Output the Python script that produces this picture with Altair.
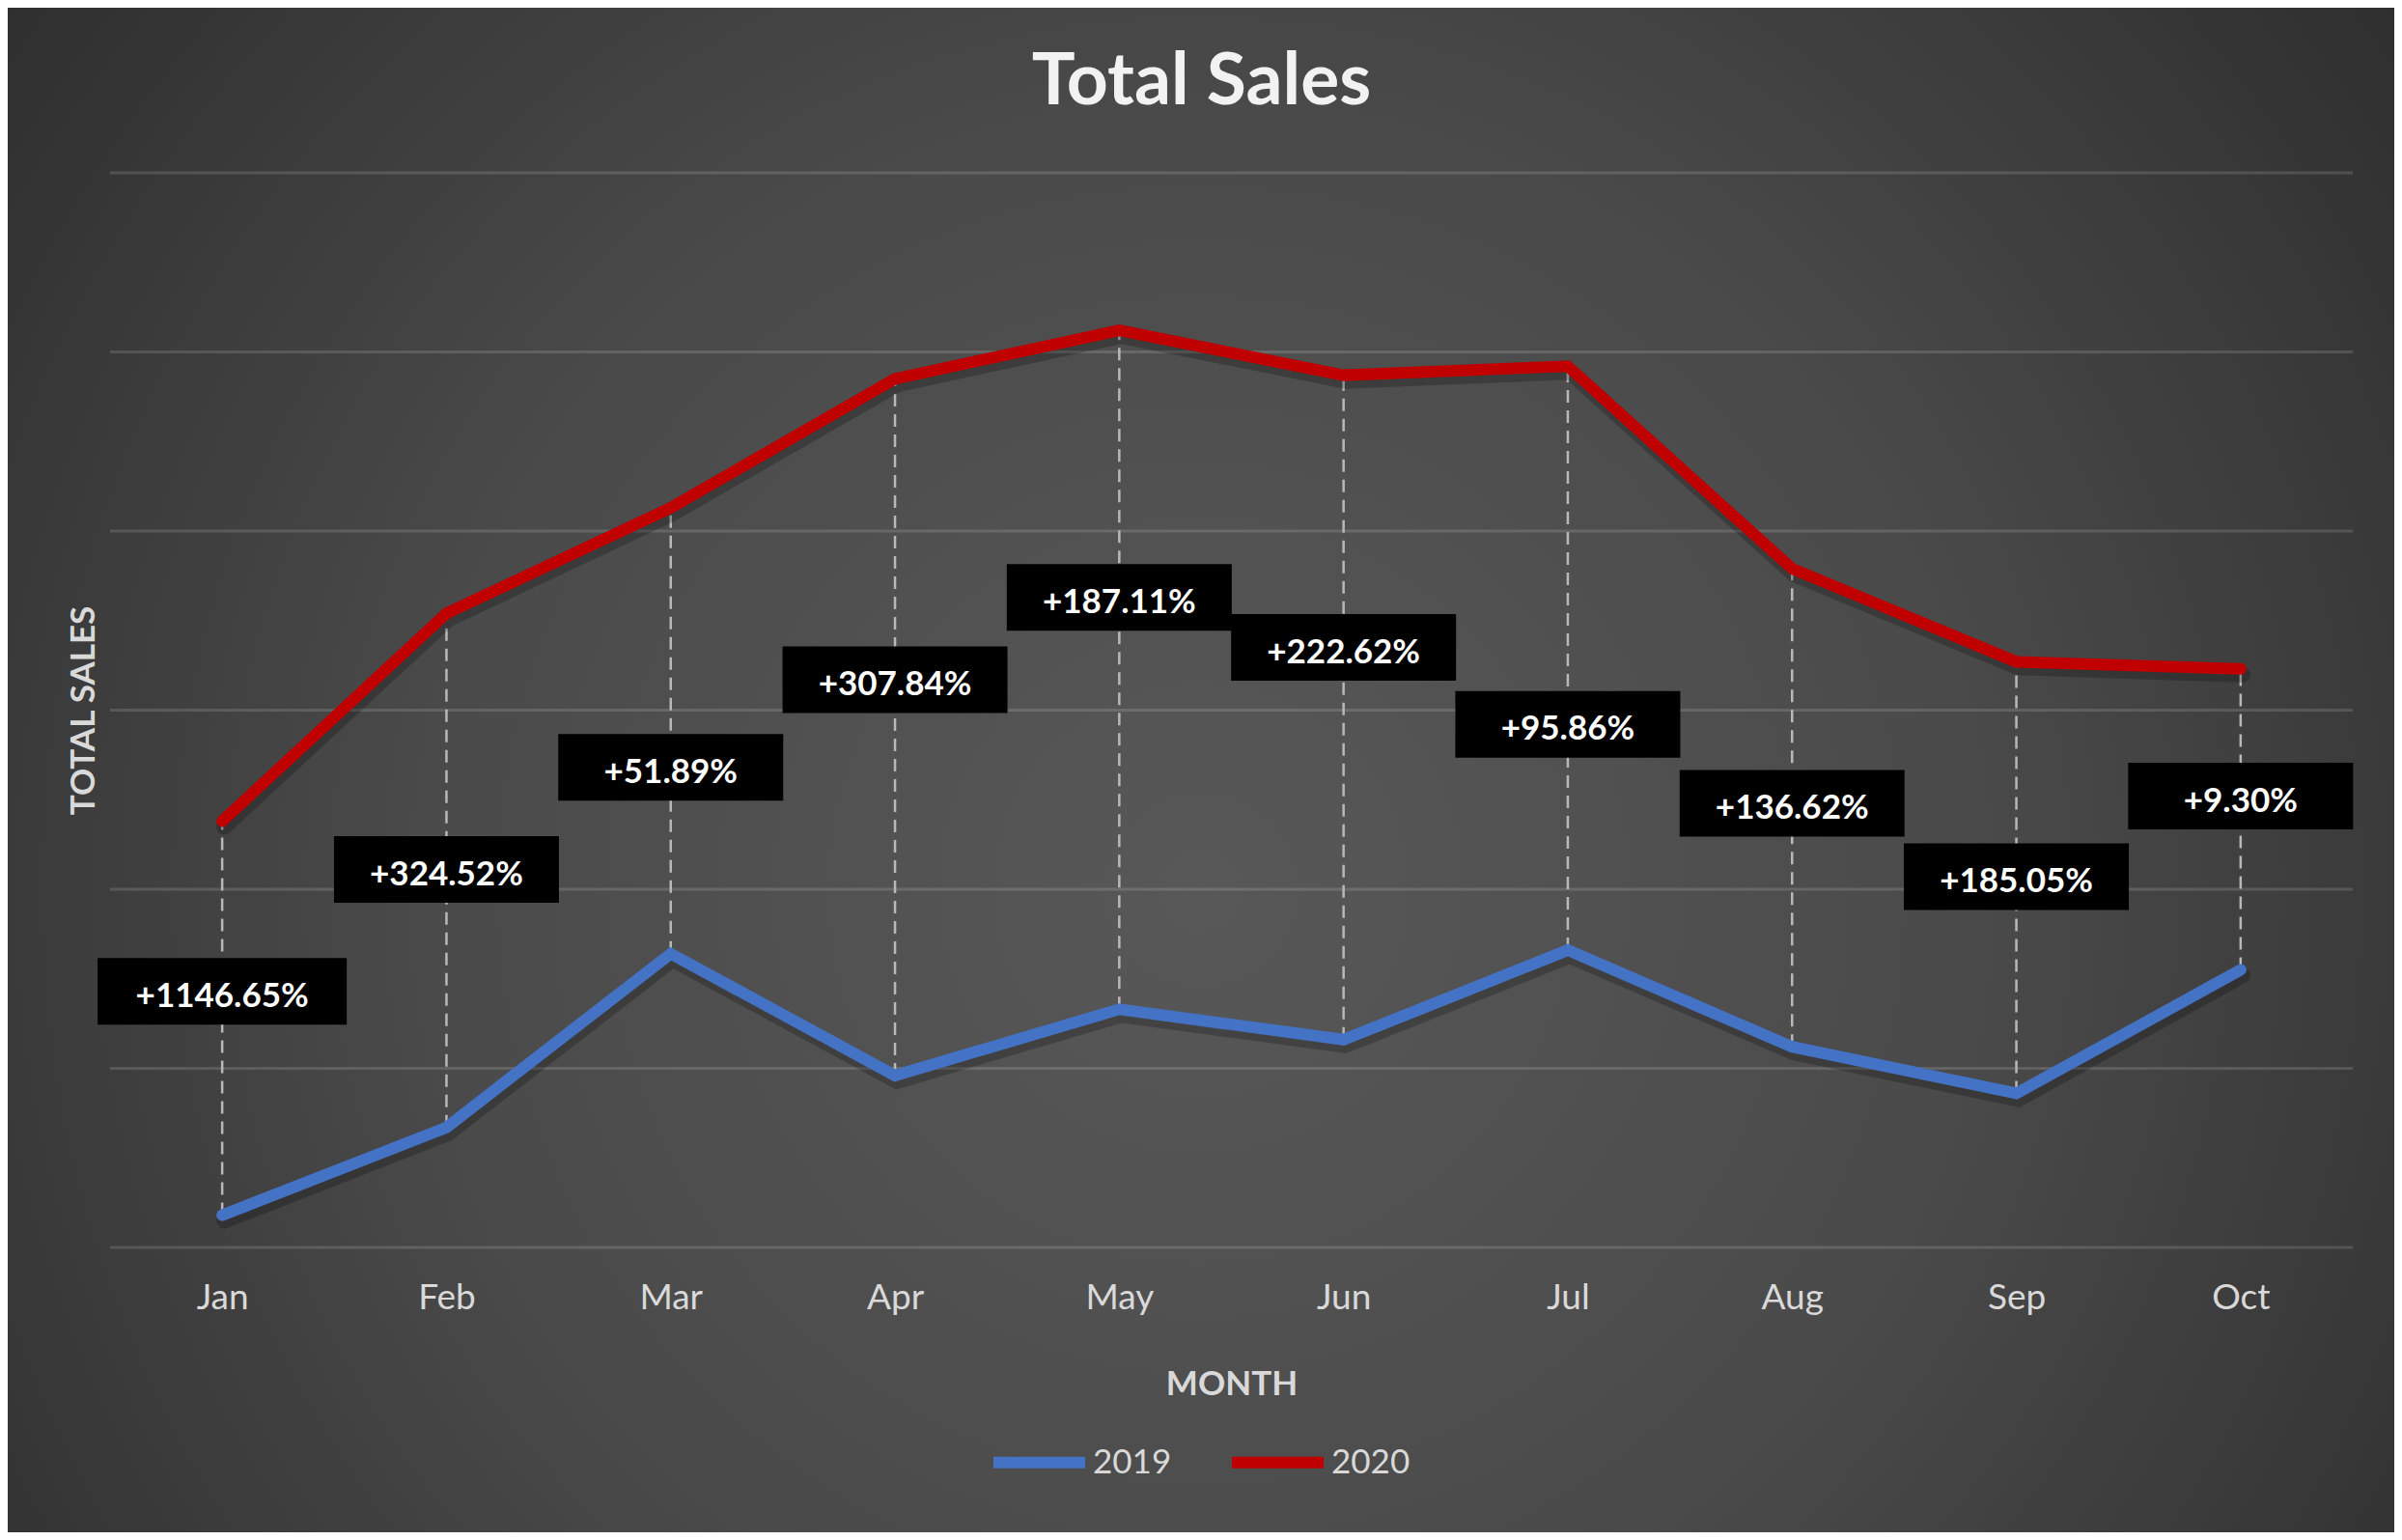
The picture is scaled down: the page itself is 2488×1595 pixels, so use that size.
import altair as alt
import pandas as pd

# ---- data (units: one gridline = 100) ----
months = ["Jan", "Feb", "Mar", "Apr", "May", "Jun", "Jul", "Aug", "Sep", "Oct"]
sales_2019 = [18, 67, 164, 96, 133, 116, 166, 112, 86, 155]
sales_2020 = [238, 354, 413, 485, 512, 487, 492, 379, 327, 323]
growth_labels = ["+1146.65%", "+324.52%", "+51.89%", "+307.84%", "+187.11%",
                 "+222.62%", "+95.86%", "+136.62%", "+185.05%", "+9.30%"]
label_level = [143, 211, 268, 317, 363, 335, 292, 248, 207, 252]
grid_values = [0, 100, 200, 300, 400, 500, 600]
years = ["2019", "2020"]
year_colors = ["#4472C4", "#C00000"]

long_df = pd.DataFrame({
    "month": months * 2,
    "year": ["2019"] * len(months) + ["2020"] * len(months),
    "sales": sales_2019 + sales_2020,
})
wide_df = pd.DataFrame({
    "month": months,
    "lo": sales_2019,
    "hi": sales_2020,
    "label": growth_labels,
    "level": label_level,
})
grid_df = pd.DataFrame({"g": grid_values})

W, H = 2323, 1113
PAD = {"left": 106, "top": 171, "right": 43, "bottom": 295}
FONT = "Lato"
TXT = "#D9D9D9"

x_scale = alt.Scale(type="point", padding=0.5, domain=months)
y_scale = alt.Scale(domain=[0, 600], nice=False, zero=True)
x_axis = alt.Axis(title="MONTH", labelAngle=0, ticks=False, domain=False, grid=False,
                  labelFont=FONT, labelFontSize=37, labelColor=TXT, labelPadding=34,
                  titleFont=FONT, titleFontSize=35, titleFontWeight="bold",
                  titleColor=TXT, titlePadding=54, zindex=1)
y_axis = alt.Axis(title="TOTAL SALES", values=grid_values, labels=False, ticks=False,
                  domain=False, grid=False, titleFont=FONT, titleFontSize=35,
                  titleFontWeight="bold", titleColor=TXT, titlePadding=10, zindex=1)

def X():
    return alt.X("month:O", scale=x_scale, axis=x_axis, sort=months)

gradient = {
    "gradient": "radial",
    "x1": 0.5, "y1": 0.55, "r1": 0,
    "x2": 0.5, "y2": 0.55, "r2": 0.72,
    "stops": [
        {"offset": 0, "color": "#585858"},
        {"offset": 0.45, "color": "#4A4A4A"},
        {"offset": 1, "color": "#262626"},
    ],
}

bg = alt.Chart(pd.DataFrame({"k": [0]})).mark_rect(fill=gradient, strokeWidth=0).encode(
    x=alt.value(-PAD["left"]), x2=alt.value(W + PAD["right"]),
    y=alt.value(-PAD["top"]), y2=alt.value(H + PAD["bottom"]),
)

grid = alt.Chart(grid_df).mark_rule(color="#FFFFFF", opacity=0.14, strokeWidth=3).encode(
    y=alt.Y("g:Q", scale=y_scale, axis=y_axis),
    x=alt.value(0), x2=alt.value(W),
)

drops = alt.Chart(wide_df).mark_rule(color="#B8B8B8", strokeWidth=2.5,
                                     strokeDash=[13, 8]).encode(
    x=X(),
    y=alt.Y("lo:Q", scale=y_scale, axis=y_axis),
    y2="hi:Q",
)

shadows = alt.Chart(long_df).mark_line(strokeWidth=16, strokeCap="round", color="#000000",
                                       opacity=0.22, yOffset=6, xOffset=2).encode(
    x=X(),
    y=alt.Y("sales:Q", scale=y_scale, axis=y_axis),
    detail="year:N",
)

lines = alt.Chart(long_df).mark_line(strokeWidth=12, strokeCap="round").encode(
    x=X(),
    y=alt.Y("sales:Q", scale=y_scale, axis=y_axis),
    color=alt.Color("year:N", scale=alt.Scale(domain=years, range=year_colors),
                    legend=alt.Legend(title=None, orient="none", direction="horizontal",
                                      legendX=909, legendY=1282,
                                      symbolType="stroke", symbolSize=9025,
                                      symbolStrokeWidth=12, labelFont=FONT,
                                      labelFontSize=35, labelColor=TXT,
                                      labelOffset=2, columnPadding=38)),
)

box_wide = "M-1,-0.2674H1V0.2674H-1Z"
box_norm = "M-1,-0.2961H1V0.2961H-1Z"
boxes = alt.Chart(wide_df).mark_point(filled=True, color="#000000", opacity=1,
                                      strokeWidth=0).encode(
    x=X(),
    y=alt.Y("level:Q", scale=y_scale, axis=y_axis),
    shape=alt.condition("length(datum.label) > 8", alt.value(box_wide), alt.value(box_norm)),
    size=alt.condition("length(datum.label) > 8", alt.value(258 * 258), alt.value(233 * 233)),
)

texts = alt.Chart(wide_df).mark_text(font=FONT, fontSize=35, fontWeight="bold",
                                     color="#FFFFFF", baseline="middle", dy=5).encode(
    x=X(),
    y=alt.Y("level:Q", scale=y_scale, axis=y_axis),
    text="label:N",
)

chart = alt.layer(bg, grid, drops, shadows, lines, boxes, texts).properties(
    width=W, height=H,
    autosize=alt.AutoSizeParams(type="none"),
    padding=PAD,
    background="#2B2B2B",
    title=alt.TitleParams("Total Sales", font=FONT, fontSize=75, fontWeight="bold",
                          color="#F2F2F2", anchor="middle", frame="group",
                          dx=-31, offset=-116),
).configure_view(stroke=None)

chart.save("out.html", embed_options={"renderer": "svg", "actions": False})
